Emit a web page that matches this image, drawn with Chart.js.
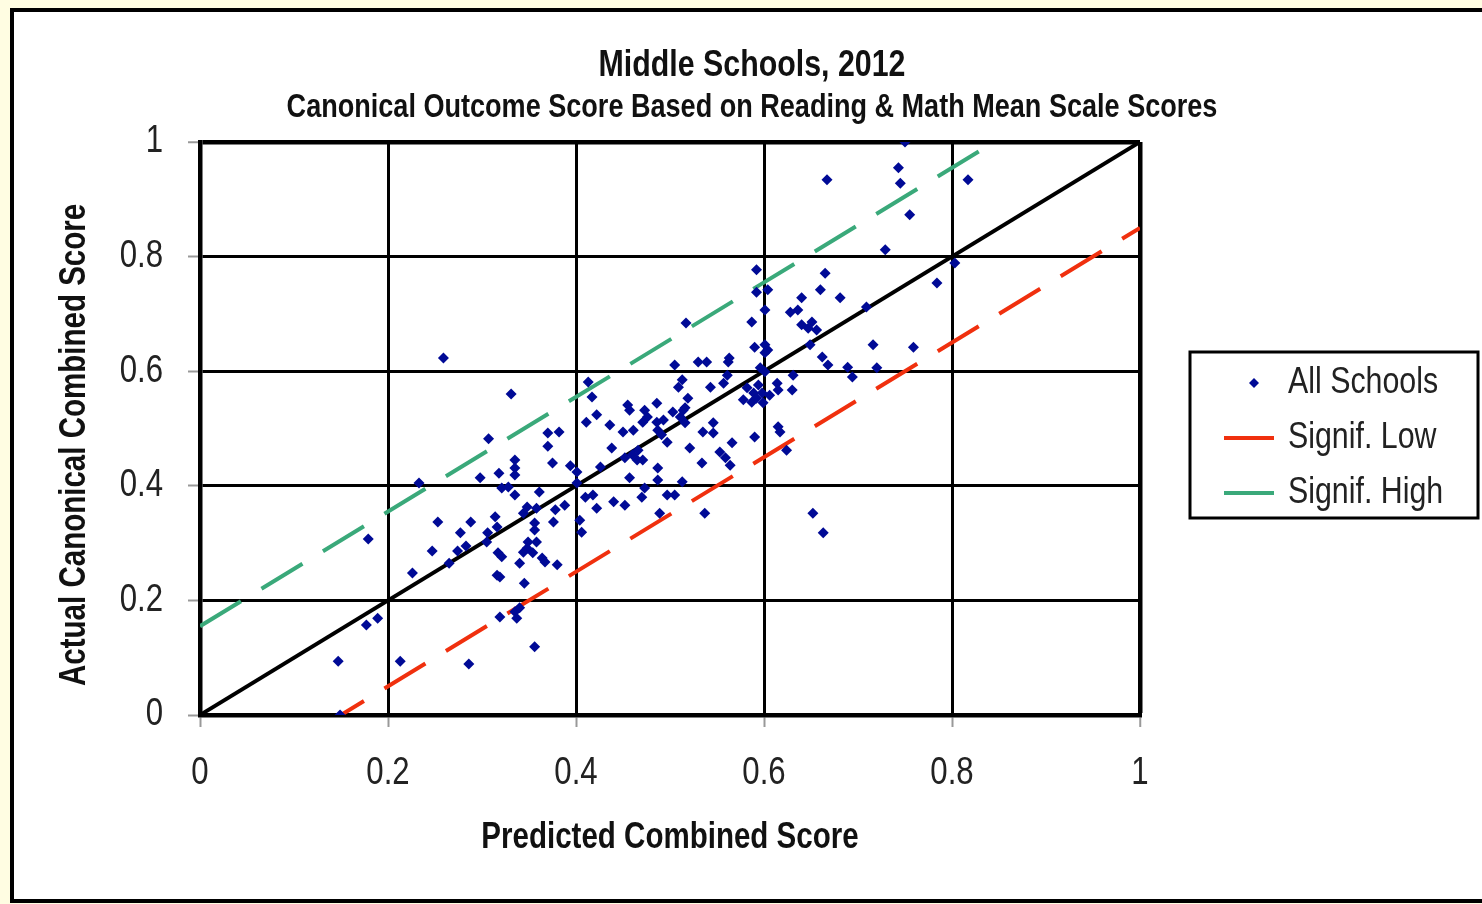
<!DOCTYPE html>
<html>
<head>
<meta charset="utf-8">
<script src="https://cdn.jsdelivr.net/npm/chart.js@4.4.1/dist/chart.umd.min.js"></script>
<style>
    html, body { margin: 0; padding: 0; background: #fffde2; }
    #frame {
        position: absolute; left: 10px; top: 8px;
        width: 1500px; height: 887px;
        border: 4px solid #000; background: #fff;
    }
    #myChart { position: absolute; left: 0; top: 0; }
</style>
</head>
<body>
<div id="frame"></div>
<canvas id="myChart" width="1482" height="904"></canvas>
<script>
// valeurs
var schoolX = [0.147, 0.149, 0.177, 0.189, 0.179, 0.213, 0.226, 0.233, 0.259, 0.253, 0.288, 0.277, 0.247, 0.274, 0.283, 0.265, 0.286, 0.298,
    0.331, 0.413, 0.417, 0.422, 0.411, 0.307, 0.370, 0.382, 0.370, 0.335, 0.335, 0.335, 0.375, 0.318, 0.394, 0.401, 0.401, 0.321, 0.328,
    0.335, 0.361, 0.410, 0.418, 0.348, 0.344, 0.358, 0.388, 0.378, 0.376, 0.404, 0.406, 0.422, 0.314, 0.316, 0.306, 0.305, 0.356, 0.356,
    0.349, 0.348, 0.344, 0.358, 0.317, 0.321, 0.354, 0.364, 0.367, 0.340, 0.380, 0.316, 0.319, 0.345, 0.319, 0.335, 0.337, 0.340, 0.356,
    0.505, 0.530, 0.539, 0.562, 0.561, 0.513, 0.509, 0.543, 0.557, 0.582, 0.589, 0.578, 0.587, 0.519, 0.486, 0.455, 0.457, 0.473, 0.476,
    0.471, 0.503, 0.514, 0.436, 0.486, 0.493, 0.516, 0.487, 0.491, 0.450, 0.461, 0.546, 0.535, 0.546, 0.590, 0.497, 0.566, 0.438, 0.521,
    0.466, 0.460, 0.465, 0.553, 0.559, 0.564, 0.452, 0.471, 0.534, 0.426, 0.487, 0.457, 0.487, 0.513, 0.473, 0.470, 0.440, 0.452, 0.497,
    0.505, 0.489, 0.537,
    0.592, 0.665, 0.592, 0.604, 0.660, 0.681, 0.640, 0.636, 0.628, 0.601, 0.709, 0.517, 0.587, 0.640, 0.651, 0.647, 0.656, 0.649, 0.716,
    0.590, 0.601, 0.604, 0.601, 0.662, 0.668, 0.689, 0.694, 0.720, 0.563, 0.596, 0.601, 0.631, 0.594, 0.598, 0.592, 0.599, 0.614, 0.615,
    0.606, 0.630, 0.516, 0.511, 0.615, 0.617, 0.624,
    0.750, 0.667, 0.743, 0.745, 0.817, 0.755, 0.729, 0.803, 0.784, 0.759, 0.652, 0.663];
var schoolY = [0.094, 0.000, 0.157, 0.169, 0.307, 0.094, 0.248, 0.405, 0.623, 0.337, 0.337, 0.318, 0.286, 0.286, 0.295, 0.265, 0.089, 0.414,
    0.560, 0.581, 0.555, 0.524, 0.511, 0.482, 0.492, 0.494, 0.469, 0.445, 0.431, 0.419, 0.440, 0.422, 0.435, 0.424, 0.405, 0.396, 0.398,
    0.384, 0.389, 0.380, 0.384, 0.363, 0.352, 0.361, 0.366, 0.358, 0.337, 0.340, 0.319, 0.361, 0.346, 0.328, 0.318, 0.302, 0.335, 0.323,
    0.302, 0.291, 0.284, 0.302, 0.283, 0.276, 0.283, 0.274, 0.267, 0.265, 0.262, 0.244, 0.241, 0.230, 0.171, 0.180, 0.169, 0.187, 0.119,
    0.611, 0.616, 0.616, 0.616, 0.593, 0.585, 0.572, 0.572, 0.579, 0.571, 0.562, 0.550, 0.546, 0.553, 0.544, 0.541, 0.532, 0.532, 0.520,
    0.511, 0.529, 0.532, 0.506, 0.511, 0.515, 0.510, 0.497, 0.489, 0.494, 0.497, 0.510, 0.494, 0.492, 0.485, 0.476, 0.475, 0.466, 0.466,
    0.462, 0.454, 0.445, 0.459, 0.449, 0.436, 0.449, 0.445, 0.440, 0.433, 0.431, 0.414, 0.410, 0.407, 0.396, 0.380, 0.372, 0.366, 0.384,
    0.384, 0.352, 0.352,
    0.777, 0.771, 0.738, 0.742, 0.742, 0.728, 0.728, 0.707, 0.703, 0.707, 0.712, 0.684, 0.686, 0.681, 0.686, 0.675, 0.672, 0.646, 0.646,
    0.642, 0.646, 0.637, 0.632, 0.625, 0.611, 0.607, 0.590, 0.606, 0.623, 0.606, 0.599, 0.593, 0.576, 0.562, 0.553, 0.545, 0.579, 0.567,
    0.558, 0.567, 0.536, 0.520, 0.503, 0.494, 0.462,
    1.000, 0.934, 0.955, 0.928, 0.934, 0.873, 0.812, 0.789, 0.754, 0.642, 0.352, 0.318];

var diagX = [0, 1];
var diagY = [0, 1];
var lowX = [0, 1];
var lowY = [-0.15, 0.85];
var highX = [0, 0.845];
var highY = [0.155, 1.0];

var tickLabels = ['0', '0.2', '0.4', '0.6', '0.8', '1'];
var legendLabels = ['All Schools', 'Signif. Low', 'Signif. High'];

function pts(xs, ys) {
    return xs.map(function (x, i) { return { x: x, y: ys[i] }; });
}

// pas de police "narrow" installée : on compresse le texte à la main
var fam = "'Liberation Sans', Arial, sans-serif";

function narrowText(c, k) {
    var orig = c.fillText;
    c.fillText = function (t, x, y, m) {
        this.save();
        this.translate(x, y);
        this.scale(k, 1);
        if (m === undefined) orig.call(this, t, 0, 0);
        else orig.call(this, t, 0, 0, m / k);
        this.restore();
    };
}

// cadre de la légende, dessiné à la main
var legendBox = {
    id: 'legendBox',
    afterDraw: function (chart) {
        var c = chart.ctx;
        var ds = chart.data.datasets;
        c.save();
        c.lineWidth = 3;
        c.strokeStyle = '#000';
        c.strokeRect(1190, 352, 288, 166);
        c.font = '37px ' + fam;
        c.textBaseline = 'middle';
        c.textAlign = 'left';
        var rows = [383, 438, 493];
        for (var i = 0; i < 3; i++) {
            var d = ds[i];
            c.fillStyle = '#222';
            c.fillText(d.label, 1288, rows[i]);
            if (i === 0) {
                c.fillStyle = d.backgroundColor;
                c.beginPath();
                c.moveTo(1254, rows[i] - 5);
                c.lineTo(1259, rows[i]);
                c.lineTo(1254, rows[i] + 5);
                c.lineTo(1249, rows[i]);
                c.closePath();
                c.fill();
            } else {
                c.strokeStyle = d.borderColor;
                c.lineWidth = 4;
                c.beginPath();
                c.moveTo(1224, rows[i]);
                c.lineTo(1274, rows[i]);
                c.stroke();
            }
        }
        c.restore();
    }
};

document.addEventListener('DOMContentLoaded', function () {
    var ctx = document.getElementById('myChart').getContext('2d');
    narrowText(ctx, 0.82);

    var gridOpts = {
        color: '#000',
        lineWidth: function (c) { return c.tick && c.tick.value === 1 ? 4.5 : 3; },
        tickColor: '#999',
        tickLength: 12,
        tickWidth: 2
    };

    var myChart = new Chart(ctx, {
        type: 'scatter',
        data: {
            datasets: [{
                label: legendLabels[0],
                data: pts(schoolX, schoolY),
                pointStyle: 'rectRot',
                pointRadius: 5.5,
                pointBorderWidth: 0,
                backgroundColor: '#000a96',
                borderColor: '#000a96',
                order: 0
            }, {
                label: legendLabels[1],
                data: pts(lowX, lowY),
                showLine: true,
                pointRadius: 0,
                borderColor: '#f0300e',
                borderWidth: 4,
                borderDash: [48, 24],
                order: 1
            }, {
                label: legendLabels[2],
                data: pts(highX, highY),
                showLine: true,
                pointRadius: 0,
                borderColor: '#3aa97a',
                borderWidth: 4,
                borderDash: [48, 24],
                order: 2
            }, {
                label: 'diag',
                data: pts(diagX, diagY),
                showLine: true,
                pointRadius: 0,
                borderColor: '#000',
                borderWidth: 4,
                order: 3
            }]
        },
        options: {
            responsive: false,
            animation: false,
            devicePixelRatio: 1,
            layout: { padding: { left: 22, right: 0, top: 0, bottom: 0 } },
            plugins: {
                legend: { display: false },
                tooltip: { enabled: false },
                title: {
                    display: true,
                    text: 'Middle Schools, 2012',
                    color: '#111',
                    font: { family: fam, size: 37, weight: 'bold', lineHeight: 1.2 },
                    padding: { top: 44, bottom: 0 }
                },
                subtitle: {
                    display: true,
                    text: 'Canonical Outcome Score Based on Reading & Math Mean Scale Scores',
                    color: '#111',
                    font: { family: fam, size: 33, weight: 'bold', lineHeight: 1.2 },
                    padding: { top: 0, bottom: 14 }
                }
            },
            scales: {
                x: {
                    type: 'linear',
                    min: 0, max: 1,
                    afterFit: function (s) { s.height = 189; },
                    ticks: {
                        stepSize: 0.2,
                        maxRotation: 0,
                        autoSkip: false,
                        padding: 24,
                        color: '#222',
                        font: { family: fam, size: 38 },
                        callback: function (v, i) { return tickLabels[i]; }
                    },
                    grid: gridOpts,
                    border: { display: true, color: '#000', width: 4.5 },
                    title: {
                        display: true,
                        text: 'Predicted Combined Score',
                        color: '#111',
                        font: { family: fam, size: 36, weight: 'bold', lineHeight: 1.2 },
                        padding: { top: 0, bottom: 44 }
                    }
                },
                y: {
                    type: 'linear',
                    min: 0, max: 1,
                    afterFit: function (s) { s.width = 178; },
                    ticks: {
                        stepSize: 0.2,
                        padding: 25,
                        color: '#222',
                        font: { family: fam, size: 38 },
                        callback: function (v, i) { return tickLabels[i]; }
                    },
                    grid: gridOpts,
                    border: { display: true, color: '#000', width: 4.5 },
                    title: {
                        display: true,
                        // espaces en fin : décale le titre vers le bas comme dans l'original
                        text: 'Actual Canonical Combined Score    ',
                        color: '#111',
                        font: { family: fam, size: 36, weight: 'bold', lineHeight: 1.2 },
                        padding: { top: 31, bottom: 0 }
                    }
                },
                // axe vide à droite : réserve la place de la légende
                yRight: {
                    type: 'linear',
                    position: 'right',
                    min: 0, max: 1,
                    afterFit: function (s) { s.width = 342; },
                    ticks: { display: false },
                    grid: { display: false },
                    border: { display: false }
                }
            }
        },
        plugins: [legendBox]
    });
});
</script>
</body>
</html>
